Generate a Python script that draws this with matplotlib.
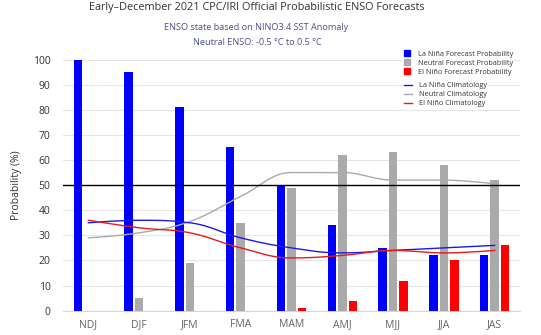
"""
ENSO probabilistic forecast chart (CPC/IRI, early December 2021).
"""

import numpy as np
import matplotlib
matplotlib.use("Agg")
import matplotlib.pyplot as plt
from matplotlib.lines import Line2D

plt.rcParams['font.family'] = ['Open Sans', 'DejaVu Sans']

# ============================================================================
# Data
# ============================================================================

seasons = ['NDJ', 'DJF', 'JFM', 'FMA', 'MAM', 'AMJ', 'MJJ', 'JJA', 'JAS']
la_nina = [100, 95, 81, 65, 50, 34, 25, 22, 22]
neutral = [0, 5, 19, 35, 49, 62, 63, 58, 52]
el_nino = [0, 0, 0, 0, 1, 4, 12, 20, 26]

la_nina_clim = [35, 36, 35, 29, 25, 23, 24, 25, 26]
neutral_clim = [29, 31, 35.5, 45.5, 55, 55, 52, 52, 50.5]
el_nino_clim = [36, 33, 31, 25, 21, 22, 24, 23, 24]

BLUE = '#0000ff'
GRAY = '#aaaaaa'
RED = '#ff0000'


def spline(x, y, n=30, smoothing=1.5):
    """Bezier spline through the points, control points as in Highcharts."""
    x = np.asarray(x, float)
    y = np.asarray(y, float)
    k = len(x)
    left = [(x[i], y[i]) for i in range(k)]
    right = [(x[i], y[i]) for i in range(k)]
    d = smoothing + 1
    for i in range(1, k - 1):
        lx = (smoothing * x[i] + x[i - 1]) / d
        ly = (smoothing * y[i] + y[i - 1]) / d
        rx = (smoothing * x[i] + x[i + 1]) / d
        ry = (smoothing * y[i] + y[i + 1]) / d
        corr = (ry - ly) * (rx - x[i]) / (rx - lx) + y[i] - ry
        ly += corr
        ry += corr
        # no false extremes
        if ly > y[i - 1] and ly > y[i]:
            ly = max(y[i - 1], y[i])
            ry = 2 * y[i] - ly
        elif ly < y[i - 1] and ly < y[i]:
            ly = min(y[i - 1], y[i])
            ry = 2 * y[i] - ly
        if ry > y[i + 1] and ry > y[i]:
            ry = max(y[i + 1], y[i])
            ly = 2 * y[i] - ry
        elif ry < y[i + 1] and ry < y[i]:
            ry = min(y[i + 1], y[i])
            ly = 2 * y[i] - ry
        left[i] = (lx, ly)
        right[i] = (rx, ry)
    xs, ys = [], []
    for i in range(1, k):
        p0 = np.array([x[i - 1], y[i - 1]])
        c1 = np.array(right[i - 1])
        c2 = np.array(left[i])
        p3 = np.array([x[i], y[i]])
        t = np.linspace(0, 1, n, endpoint=(i == k - 1))[:, None]
        pts = ((1 - t) ** 3 * p0 + 3 * (1 - t) ** 2 * t * c1
               + 3 * (1 - t) * t ** 2 * c2 + t ** 3 * p3)
        xs.append(pts[:, 0])
        ys.append(pts[:, 1])
    return np.concatenate(xs), np.concatenate(ys)


# ============================================================================
# Figure
# ============================================================================

W, H = 541, 335
fig = plt.figure(figsize=(W / 100, H / 100), dpi=100)
ax = fig.add_axes([63 / W, (H - 310.7) / H, (520 - 63) / W, (310.7 - 59.5) / H])

x = np.arange(len(seasons))
bw = 0.167
off = 0.207

ax.bar(x - off, la_nina, bw, color=BLUE, zorder=3)
ax.bar(x, neutral, bw, color=GRAY, zorder=3)
ax.bar(x + off, el_nino, bw, color=RED, zorder=3)

for vals, col in [(neutral_clim, '#aaaaaa'), (la_nina_clim, '#1a1ae6'), (el_nino_clim, '#e81a1a')]:
    sx, sy = spline(x, vals)
    ax.plot(sx, sy, color=col, lw=1.0, zorder=4)

ax.axhline(50, color='black', lw=1.0, zorder=5)

ax.set_xlim(-0.5, len(seasons) - 0.5)
ax.set_ylim(0, 100)
ax.set_yticks(np.arange(0, 101, 10))
ax.set_xticks(x)
ax.set_xticklabels(seasons, color='#666666', fontsize=7.5)
ax.tick_params(axis='y', labelsize=7.5, labelcolor='#333333', length=0, pad=9)
ax.tick_params(axis='x', length=0, pad=6)
ax.grid(axis='y', color='#e6e6e6', lw=0.8, zorder=0)
for s in ['top', 'right', 'left']:
    ax.spines[s].set_visible(False)
ax.spines['bottom'].set_color('#ccd6eb')
ax.spines['bottom'].set_linewidth(0.8)
ax.set_ylabel('Probability (%)', fontsize=7.5, color='#333333', labelpad=8)

fig.text(256.5 / W, 1 - 7.5 / H,
         'Early\u2013December 2021 CPC/IRI Official Probabilistic ENSO Forecasts',
         ha='center', va='center', fontsize=7.8, color='#333333')
fig.text(256.6 / W, 1 - 28 / H, 'ENSO state based on NINO3.4 SST Anomaly',
         ha='center', va='center', fontsize=6.6, color='#4d4d8f')
fig.text(257 / W, 1 - 42.3 / H, 'Neutral ENSO: -0.5 \u00b0C to 0.5 \u00b0C',
         ha='center', va='center', fontsize=6.6, color='#4d4d8f')

# Legends
bar_handles = [Line2D([], [], marker='s', ls='', ms=4.3, color=c) for c in (BLUE, GRAY, RED)]
bar_labels = ['La Ni\u00f1a Forecast Probability', 'Neutral Forecast Probability',
              'El Ni\u00f1o Forecast Probability']
line_handles = [Line2D([], [], lw=1.0, color=c) for c in ('#1a1ae6', '#aaaaaa', '#e81a1a')]
line_labels = ['La Ni\u00f1a Climatology', 'Neutral Climatology', 'El Ni\u00f1o Climatology']

common = dict(loc='upper left', frameon=True, fontsize=5.2, labelspacing=0.28,
              borderpad=0.1, borderaxespad=0, facecolor='white', edgecolor='none',
              framealpha=1.0, labelcolor='#333333')
leg1 = fig.legend(bar_handles, bar_labels, bbox_to_anchor=(403 / W, 1 - 50 / H),
                  handlelength=0.8, handletextpad=1.2, **common)
leg2 = fig.legend(line_handles, line_labels, bbox_to_anchor=(403 / W, 1 - 81.5 / H),
                  handlelength=1.2, handletextpad=0.9, **common)
for lg in (leg1, leg2):
    lg.set_zorder(10)

fig.savefig('out.png', dpi=100)
